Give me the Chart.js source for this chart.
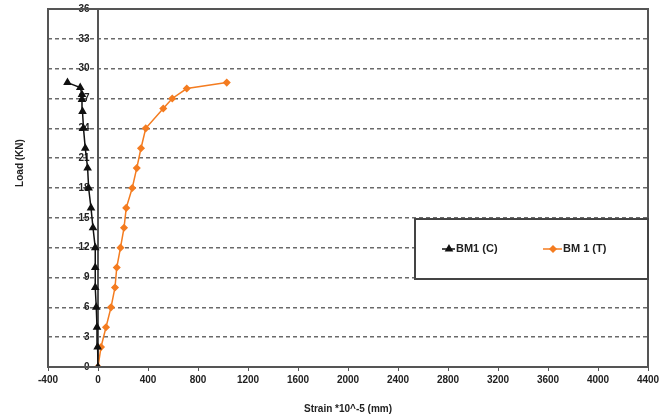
<!DOCTYPE html>
<html>
<head>
<meta charset="utf-8">
<script src="https://cdn.jsdelivr.net/npm/chart.js@4/dist/chart.umd.min.js"></script>
<style>
  body { margin: 0; background: #fff; }
  #wrap { width: 665px; height: 419px; }
</style>
</head>
<body>
<div id="wrap"><canvas id="chart" width="665" height="419"></canvas></div>
<script>
// BM1 (C) - compression side
var loadC = [0, 2, 4, 6, 8, 10, 12, 14, 16, 18, 20, 22, 24, 25.7, 26.9, 27.4, 28.1, 28.6];
var strainC = [0, -3, -8, -14, -22, -22, -22, -40, -56, -75, -83, -102, -116, -124, -128, -128, -142, -244];

// BM 1 (T) - tension side
var loadT = [0, 2, 4, 6, 8, 10, 12, 14, 16, 18, 20, 22, 24, 26, 27, 28, 28.6];
var strainT = [0, 24, 64, 104, 136, 150, 180, 208, 226, 274, 310, 344, 382, 522, 594, 710, 1030];

var seriesNames = ['BM1 (C)', 'BM 1 (T)'];
var xTitle = 'Strain *10^-5 (mm)';
var yTitle = 'Load (KN)';

function toPoints(xs, ys) {
    var pts = [];
    for (var i = 0; i < xs.length; i++) {
        pts.push({x: xs[i], y: ys[i]});
    }
    return pts;
}

var boldFont = {family: 'Liberation Sans, Arial, sans-serif', size: 10, weight: 'bold'};

// frame, y title and legend box drawn on top of the chart
var extrasPlugin = {
    id: 'extras',
    afterDraw: function (chart) {
        var ctx = chart.ctx;
        var a = chart.chartArea;
        ctx.save();

        // plot frame
        ctx.strokeStyle = '#555';
        ctx.lineWidth = 2;
        ctx.strokeRect(a.left, a.top, a.right - a.left, a.bottom - a.top);

        // y axis title
        ctx.fillStyle = '#222';
        ctx.font = 'bold 10px Liberation Sans, Arial, sans-serif';
        ctx.textAlign = 'center';
        ctx.textBaseline = 'middle';
        ctx.translate(20, 163);
        ctx.rotate(-Math.PI / 2);
        ctx.fillText(yTitle, 0, 0);
        ctx.restore();

        // legend box
        ctx.save();
        var bx = 415, by = 219, bw = a.right - 415, bh = 60;
        ctx.fillStyle = '#fff';
        ctx.fillRect(bx, by, bw, bh);
        ctx.strokeStyle = '#444';
        ctx.lineWidth = 2;
        ctx.strokeRect(bx, by, bw, bh);

        var items = [{x: 442, tx: 456}, {x: 543, tx: 563}];
        var cy = 249;
        ctx.font = 'bold 11px Liberation Sans, Arial, sans-serif';
        ctx.textAlign = 'left';
        ctx.textBaseline = 'middle';
        chart.data.datasets.forEach(function (ds, i) {
            var it = items[i];
            ctx.strokeStyle = ds.borderColor;
            ctx.lineWidth = 1.5;
            ctx.beginPath();
            ctx.moveTo(it.x, cy);
            ctx.lineTo(it.tx - 1, cy);
            ctx.stroke();
            ctx.fillStyle = ds.backgroundColor;
            Chart.helpers.drawPoint(ctx, {pointStyle: ds.pointStyle, radius: ds.pointRadius, borderWidth: 1}, (it.x + it.tx) / 2, cy);
            ctx.fillStyle = '#222';
            ctx.fillText(ds.label, it.tx, cy);
        });
        ctx.restore();
    }
};

var chart = new Chart(document.getElementById('chart'), {
    type: 'scatter',
    data: {
        datasets: [
            {
                label: seriesNames[0],
                data: toPoints(strainC, loadC),
                showLine: true,
                borderColor: '#111',
                backgroundColor: '#111',
                borderWidth: 1.5,
                pointStyle: 'triangle',
                pointRadius: 3.5,
                pointHoverRadius: 3.5
            },
            {
                label: seriesNames[1],
                data: toPoints(strainT, loadT),
                showLine: true,
                borderColor: '#f47c20',
                backgroundColor: '#f47c20',
                borderWidth: 1.5,
                pointStyle: 'rectRot',
                pointRadius: 3,
                pointHoverRadius: 3
            }
        ]
    },
    options: {
        responsive: false,
        animation: false,
        layout: {padding: {left: 48, right: 17, top: 9, bottom: 0}},
        plugins: {
            legend: {display: false},
            tooltip: {enabled: false}
        },
        scales: {
            x: {
                type: 'linear',
                min: -400,
                max: 4400,
                ticks: {
                    stepSize: 400, color: '#222', font: boldFont, padding: 3, maxRotation: 0,
                    callback: function (v) { return String(v); }
                },
                grid: {drawOnChartArea: false, tickLength: 4, color: '#555'},
                border: {display: false},
                title: {display: true, text: xTitle, color: '#222', font: boldFont, padding: {top: 14, bottom: 4}}
            },
            y: {
                type: 'linear',
                min: 0,
                max: 36,
                position: {x: 0},
                ticks: {
                    stepSize: 3, color: '#222', font: boldFont, padding: 0,
                    callback: function (v) { return v + '   '; }
                },
                grid: {
                    color: '#6a6a6a',
                    lineWidth: 1.5,
                    tickLength: 7,
                    tickColor: 'rgba(0,0,0,0)'
                },
                border: {display: true, color: '#555', width: 2, dash: [4, 3]}
            }
        }
    },
    plugins: [extrasPlugin]
});
</script>
</body>
</html>
